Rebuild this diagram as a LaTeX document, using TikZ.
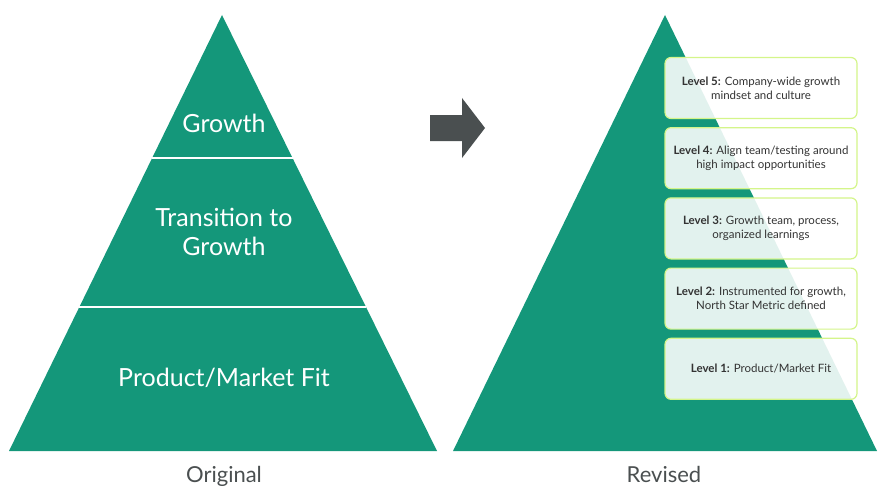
\documentclass[tikz,border=0pt]{standalone}
\usepackage{fontspec}
\setmainfont{Lato}
\usetikzlibrary{positioning}
\definecolor{pyrgreen}{HTML}{14977A}
\definecolor{boxedge}{HTML}{D4F58A}
\definecolor{arrowgray}{HTML}{4A4F50}
\tikzset{
  tier/.style={text=white, font=\fontsize{25}{29}\selectfont, align=center},
  caption/.style={text=arrowgray, font=\fontsize{22}{26}\selectfont},
  level/.style={draw=boxedge, line width=1.2pt, fill=white, fill opacity=0.88, text opacity=1,
    rounded corners=6pt, minimum width=192pt, minimum height=61pt, align=center,
    text=black!80, font=\fontsize{11.5}{14}\selectfont}
}
\begin{document}
\begin{tikzpicture}[x=1pt,y=-1pt]
	\useasboundingbox (0,0) rectangle (890,500);
	% original pyramid
	\coordinate (oT) at (222,15);
	\coordinate (oL) at (9,451);
	\coordinate (oR) at (437,451);
	\fill[pyrgreen] (oT) -- (oL) -- (oR) -- cycle;
	\draw[white, line width=1.5pt] (152,158) -- (293,158);
	\draw[white, line width=1.5pt] (79,307) -- (366,307);
	\node[tier] (growth) at (224,123) {Growth};
	\node[tier] (transition) at (224,232) {Transition to\\Growth};
	\node[tier] (pmf) at (224,378) {Product/Market Fit};
	\node[caption] (original) at (224,476) {Original};
	% arrow
	\fill[arrowgray] (430,115) -- (462,115) -- (462,98) -- (485,128) -- (462,158) -- (462,141) -- (430,141) -- cycle;
	% revised pyramid
	\coordinate (rT) at (665,15);
	\coordinate (rL) at (453,451);
	\coordinate (rR) at (877,451);
	\fill[pyrgreen] (rT) -- (rL) -- (rR) -- cycle;
	\node[caption] (revised) at (664,474) {Revised};
	\node[level] (l5) at (761,88) {\textbf{Level 5:} Company-wide growth\\mindset and culture};
	\node[level, below=8pt of l5] (l4) {\textbf{Level 4:} Align team/testing around\\high impact opportunities};
	\node[level, below=8pt of l4] (l3) {\textbf{Level 3:} Growth team, process,\\organized learnings};
	\node[level, below=8pt of l3] (l2) {\textbf{Level 2:} Instrumented for growth,\\North Star Metric defined};
	\node[level, below=8pt of l2] (l1) {\textbf{Level 1:} Product/Market Fit};
\end{tikzpicture}
\end{document}
